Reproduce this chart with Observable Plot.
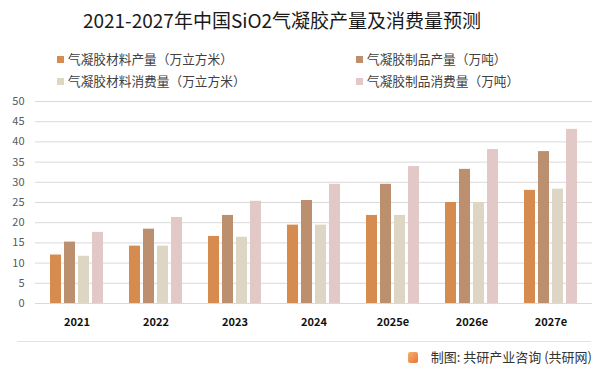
<!DOCTYPE html>
<html>
<head>
<meta charset="utf-8">
<script src="https://cdn.jsdelivr.net/npm/d3@7"></script>
<script src="https://cdn.jsdelivr.net/npm/@observablehq/plot@0.6"></script>
<style>
  html, body { margin: 0; padding: 0; background: #fff; }
  body { width: 601px; height: 374px; overflow: hidden; font-family: "Noto Sans CJK SC", "Noto Sans", sans-serif; }
  #wrap { position: relative; width: 601px; height: 374px; }
  #title { position: absolute; left: 0; width: 564px; top: 7px; text-align: center; font-size: 19px; color: #1a1a1a; line-height: 26px; white-space: nowrap; }
  .leg { position: absolute; font-size: 12.7px; color: #404040; line-height: 16px; white-space: nowrap; }
  .sw { display: inline-block; width: 7px; height: 7px; margin-right: 4px; vertical-align: 1px; }
  .layer { position: absolute; left: 0; top: 90px; }
  #rule { position: absolute; left: 17px; width: 574px; top: 341px; border-top: 1px solid #e3e3e3; }
  #caption { position: absolute; right: 9px; top: 347px; font-size: 13px; color: #333; line-height: 20px; white-space: nowrap; }
  #logo { display: inline-block; width: 10px; height: 11px; border-radius: 2px; background: linear-gradient(135deg, #f6b26b, #e8743b); margin-right: 13px; vertical-align: -1px; }
</style>
</head>
<body>
<div id="wrap">
  <div id="title">2021-2027年中国SiO2气凝胶产量及消费量预测</div>
  <div id="legend"></div>
  <div id="bg" class="layer"></div>
  <div id="fg" class="layer"></div>
  <div id="rule"></div>
  <div id="caption"><span id="logo"></span>制图: 共研产业咨询 (共研网)</div>
</div>
<script>
const years = ["2021", "2022", "2023", "2024", "2025e", "2026e", "2027e"];
const seriesNames = ["气凝胶材料产量（万立方米）", "气凝胶制品产量（万吨）", "气凝胶材料消费量（万立方米）", "气凝胶制品消费量（万吨）"];
const colors = ["#D58C4E", "#BC8F6F", "#DDD6C4", "#E2C9C8"];
const materialProduction = [12.0, 14.2, 16.6, 19.4, 21.8, 25.0, 28.0];
const productProduction = [15.2, 18.4, 21.8, 25.5, 29.5, 33.2, 37.6];
const materialConsumption = [11.7, 14.2, 16.4, 19.4, 21.8, 25.0, 28.3];
const productConsumption = [17.6, 21.3, 25.3, 29.5, 33.9, 38.1, 43.1];
const yTicks = [0, 5, 10, 15, 20, 25, 30, 35, 40, 45, 50];

const seriesValues = [materialProduction, productProduction, materialConsumption, productConsumption];
const data = [];
years.forEach((y, i) => seriesValues.forEach((vals, s) => data.push({year: y, series: seriesNames[s], value: vals[i]})));

// legend
const legendPos = [[57, 51], [356, 51], [57, 73], [356, 73]];
const legend = document.getElementById("legend");
seriesNames.forEach((name, i) => {
  const d = document.createElement("div");
  d.className = "leg";
  d.style.left = legendPos[i][0] + "px";
  d.style.top = legendPos[i][1] + "px";
  d.innerHTML = `<span class="sw" style="background:${colors[i]}"></span>${name}`;
  legend.appendChild(d);
});

const common = {
  width: 601, height: 253,
  marginLeft: 35, marginRight: 9, marginTop: 11, marginBottom: 40,
  style: {fontFamily: "'Noto Sans CJK SC', 'Noto Sans', sans-serif", background: "transparent", overflow: "visible"}
};

const bg = Plot.plot({
  ...common,
  y: {domain: [0, 50], axis: null},
  marks: [
    Plot.ruleY(yTicks, {stroke: "#d9d9d9", strokeWidth: 1, strokeOpacity: 1}),
    Plot.axisY({ticks: yTicks, tickSize: 0, tickPadding: 11, fontSize: 11, fill: "#595959", label: null, tickFormat: d => String(d)})
  ]
});
document.getElementById("bg").appendChild(bg);

const fg = Plot.plot({
  ...common,
  fx: {domain: years, paddingInner: 0.3, paddingOuter: 0.17, label: null},
  x: {domain: seriesNames, paddingInner: 0.2, paddingOuter: 0, axis: null},
  y: {domain: [0, 50], axis: null},
  color: {domain: seriesNames, range: colors},
  marks: [
    Plot.barY(data, {fx: "year", x: "series", y: "value", fill: "series"}),
    Plot.axisFx({anchor: "bottom", tickSize: 0, tickPadding: 15, fontSize: 11, fontWeight: "bold", fill: "#111", label: null})
  ]
});
document.getElementById("fg").appendChild(fg);
</script>
</body>
</html>
